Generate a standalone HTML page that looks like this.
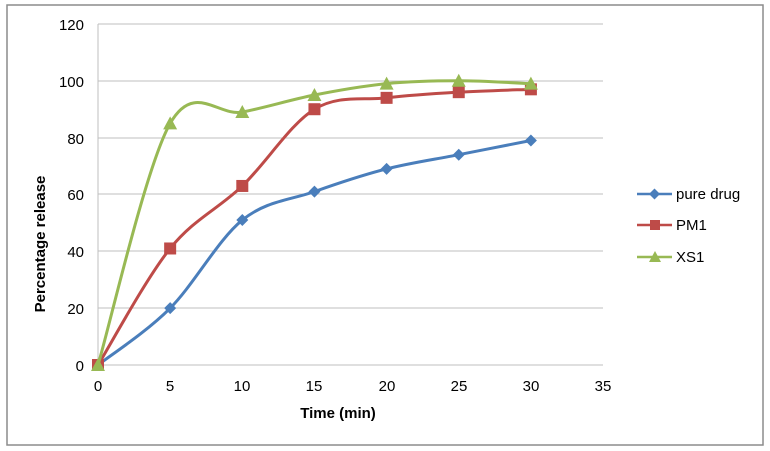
<!DOCTYPE html>
<html><head><meta charset="utf-8"><style>
html,body{margin:0;padding:0;background:#fff;}
svg{display:block;font-family:"Liberation Sans",sans-serif;}
</style></head><body>
<svg id="s" width="770" height="451" viewBox="0 0 770 451" xmlns="http://www.w3.org/2000/svg">
<rect x="7" y="5" width="756" height="440" fill="#fff" stroke="#8c8c8c" stroke-width="1.5"/>
<g stroke="#bfbfbf" stroke-width="1">
<line x1="98" y1="24" x2="603" y2="24"/>
<line x1="98" y1="81" x2="603" y2="81"/>
<line x1="98" y1="138" x2="603" y2="138"/>
<line x1="98" y1="194" x2="603" y2="194"/>
<line x1="98" y1="251" x2="603" y2="251"/>
<line x1="98" y1="308" x2="603" y2="308"/>
<line x1="98" y1="24" x2="98" y2="365"/>
<line x1="98" y1="365" x2="603" y2="365"/>
</g>
<g font-size="15" fill="#000" text-anchor="end">
<text x="84" y="30">120</text><text x="84" y="87">100</text><text x="84" y="144">80</text>
<text x="84" y="200">60</text><text x="84" y="257">40</text><text x="84" y="314">20</text><text x="84" y="371">0</text>
</g>
<g font-size="15" fill="#000" text-anchor="middle">
<text x="98" y="391">0</text><text x="170" y="391">5</text><text x="242" y="391">10</text><text x="314" y="391">15</text>
<text x="387" y="391">20</text><text x="459" y="391">25</text><text x="531" y="391">30</text><text x="603" y="391">35</text>
</g>
<text x="338" y="418" font-size="15" font-weight="bold" text-anchor="middle">Time (min)</text>
<text transform="translate(45,244) rotate(-90)" font-size="15" font-weight="bold" text-anchor="middle">Percentage release</text>
<g id="series"></g>
<g font-size="15" fill="#000">
<line x1="637" y1="194" x2="672" y2="194" stroke="#4a7ebb" stroke-width="2.5"/>
<polygon points="654.5,188.5 660,194 654.5,199.5 649,194" fill="#4a7ebb"/>
<text x="676" y="199">pure drug</text>
<line x1="637" y1="225" x2="672" y2="225" stroke="#be4b48" stroke-width="2.5"/>
<rect x="650" y="220" width="10" height="10" fill="#be4b48"/>
<text x="676" y="230">PM1</text>
<line x1="637" y1="257" x2="672" y2="257" stroke="#98b954" stroke-width="2.5"/>
<polygon points="655,251 661,262 649,262" fill="#98b954"/>
<text x="676" y="262">XS1</text>
</g>
</svg>
<script>
var X=function(t){return 98+t*14.43},Y=function(v){return 365-v*2.842};
var ts=[0,5,10,15,20,25,30];
var S=[["#4a7ebb","d",[0,20,51,61,69,74,79]],["#be4b48","s",[0,41,63,90,94,96,97]],["#98b954","t",[0,85,89,95,99,100,99]]];
var g=document.getElementById("series"),h="";
S.forEach(function(s){
 var p=ts.map(function(t,i){return[X(t),Y(s[2][i])]});
 var d="M"+p[0][0]+","+p[0][1];
 for(var i=0;i<p.length-1;i++){
  var p0=p[i-1]||p[i],p1=p[i],p2=p[i+1],p3=p[i+2]||p2,k=1/6;
  d+=" C"+(p1[0]+(p2[0]-p0[0])*k)+","+(p1[1]+(p2[1]-p0[1])*k)+" "+(p2[0]-(p3[0]-p1[0])*k)+","+(p2[1]-(p3[1]-p1[1])*k)+" "+p2[0]+","+p2[1];
 }
 h+='<path d="'+d+'" fill="none" stroke="'+s[0]+'" stroke-width="3"/>';
 p.forEach(function(q){
  var x=q[0],y=q[1];
  if(s[1]=="d")h+='<polygon points="'+x+','+(y-6)+' '+(x+6)+','+y+' '+x+','+(y+6)+' '+(x-6)+','+y+'" fill="'+s[0]+'"/>';
  else if(s[1]=="s")h+='<rect x="'+(x-6)+'" y="'+(y-6)+'" width="12" height="12" fill="'+s[0]+'"/>';
  else h+='<polygon points="'+x+','+(y-7)+' '+(x+7)+','+(y+6)+' '+(x-7)+','+(y+6)+'" fill="'+s[0]+'"/>';
 });
});
g.innerHTML=h;
</script>
</body></html>
